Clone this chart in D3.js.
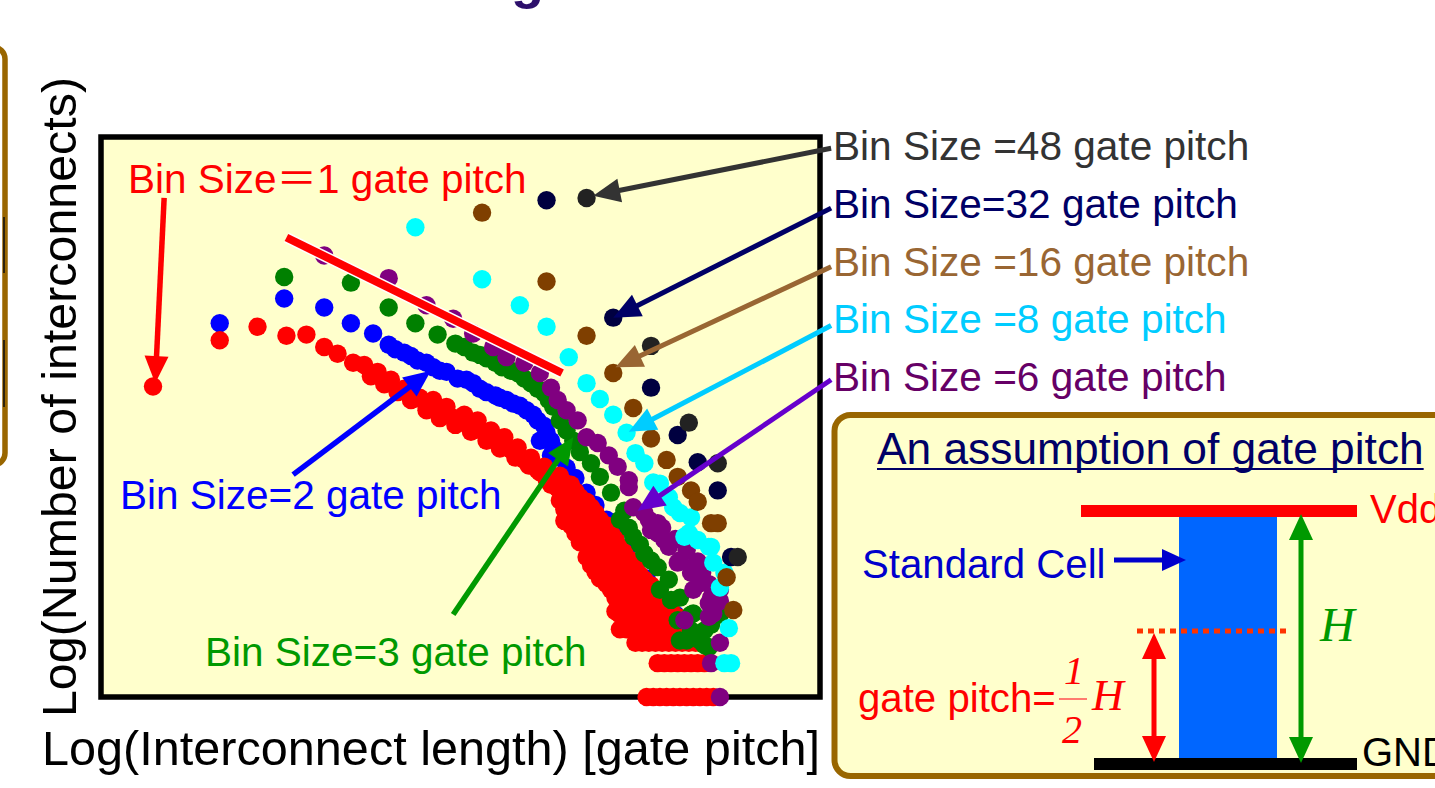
<!DOCTYPE html>
<html><head><meta charset="utf-8">
<script src="https://cdn.jsdelivr.net/npm/d3@7"></script>
<style>html,body{margin:0;padding:0;background:#fff;overflow:hidden}</style>
</head><body>
<svg id="chart" width="1435" height="788"></svg>
<script>
// Each point: [log10(interconnect length in gate pitch), log10(number of interconnects)]
const bin1 = [
  [0.00,2.75],[0.30,3.16],[0.47,3.28],[0.60,3.20],[0.69,3.21],[0.77,3.10],[0.83,3.04],[0.90,2.96],
  [0.95,2.94],[1.01,2.88],[1.07,2.81],[1.13,2.73],[1.20,2.65],[1.26,2.63],[1.32,2.57],[1.40,2.50],
  [1.46,2.45],[1.52,2.36],[1.58,2.30],[1.64,2.21],[1.70,2.12],[1.76,2.04],[1.80,1.95],
  [0.98,2.84],[1.04,2.77],[1.10,2.70],[1.17,2.64],[1.23,2.58],[1.30,2.53],[1.36,2.47],[1.42,2.42],
  [1.49,2.34],[1.55,2.27],[1.61,2.19],[1.67,2.10],[1.73,2.01],[1.77,1.93],[1.82,1.85],
  [1.16,2.63],[1.23,2.54],[1.29,2.47],[1.36,2.41],[1.43,2.35],[1.50,2.27],[1.56,2.20],[1.63,2.12],
  [1.69,2.05],[1.74,1.99],[1.79,1.88],
  [1.83,1.96],[1.83,1.83],[1.83,1.74],
  [1.85,1.90],[1.85,1.78],[1.85,1.66],[1.85,1.56],
  [1.88,1.88],[1.88,1.74],[1.88,1.61],[1.88,1.52],
  [1.90,1.82],[1.90,1.70],[1.90,1.57],[1.90,1.45],
  [1.92,1.77],[1.92,1.64],[1.92,1.50],[1.92,1.37],
  [1.95,1.73],[1.95,1.61],[1.95,1.48],[1.95,1.36],[1.95,1.24],
  [1.97,1.68],[1.97,1.55],[1.97,1.42],[1.97,1.28],[1.97,1.17],
  [1.99,1.63],[1.99,1.50],[1.99,1.37],[1.99,1.24],[1.99,1.11],
  [2.01,1.57],[2.01,1.43],[2.01,1.30],[2.01,1.17],[2.01,1.05],
  [2.04,1.52],[2.04,1.39],[2.04,1.26],[2.04,1.12],[2.04,1.00],
  [2.06,1.45],[2.06,1.32],[2.06,1.19],[2.06,1.05],[2.06,0.95],
  [2.08,1.40],[2.08,1.27],[2.08,1.13],[2.08,1.00],[2.08,0.88],[2.08,0.76],
  [2.10,1.33],[2.10,1.19],[2.10,1.06],[2.10,0.93],[2.10,0.80],[2.10,0.73],
  [2.12,1.28],[2.12,1.15],[2.12,1.01],[2.12,0.88],[2.12,0.76],
  [2.15,1.21],[2.15,1.08],[2.15,0.95],[2.15,0.81],[2.15,0.68],
  [2.17,1.15],[2.17,1.02],[2.17,0.89],[2.17,0.76],
  [2.19,1.08],[2.19,0.95],[2.19,0.81],[2.19,0.70],
  [2.21,1.04],[2.21,0.91],[2.21,0.78],[2.21,0.68],
  [2.24,0.99],[2.24,0.86],[2.24,0.73],
  [2.26,0.93],[2.26,0.80],[2.26,0.68],
  [2.28,0.88],[2.28,0.75],[2.30,0.80],[2.30,0.70],
  [2.33,0.77],[2.33,0.68],[2.35,0.72],[2.37,0.70],
  // four, three, two and single interconnects per length
  [2.10,0.60],[2.13,0.60],[2.16,0.60],[2.19,0.60],[2.22,0.60],[2.25,0.60],[2.28,0.60],[2.31,0.60],[2.34,0.60],[2.37,0.60],[2.40,0.60],
  [2.17,0.48],[2.20,0.48],[2.23,0.48],[2.26,0.48],[2.29,0.48],[2.32,0.48],[2.35,0.48],[2.38,0.48],[2.41,0.48],[2.44,0.48],[2.46,0.48],
  [2.27,0.30],[2.30,0.30],[2.33,0.30],[2.36,0.30],[2.39,0.30],[2.42,0.30],[2.45,0.30],[2.48,0.30],
  [2.22,0.00],[2.25,0.00],[2.28,0.00],[2.31,0.00],[2.34,0.00],[2.37,0.00],[2.40,0.00],[2.43,0.00],[2.46,0.00],[2.49,0.00],[2.52,0.00]
];
const bin2 = [
  [0.30,3.31],[0.59,3.53],[0.77,3.45],[0.89,3.31],[0.99,3.22],[1.06,3.12],[1.13,3.05],[1.19,2.98],
  [1.26,2.92],[1.32,2.88],[1.37,2.82],[1.44,2.78],[1.50,2.70],[1.56,2.65],[1.62,2.60],[1.68,2.54],
  [1.73,2.45],[1.77,2.34],[1.80,2.21],[1.74,2.27],[1.79,2.14],
  [1.09,3.08],[1.16,3.02],[1.23,2.96],[1.29,2.89],[1.41,2.81],[1.47,2.73],[1.54,2.67],[1.59,2.63],
  [1.65,2.58],[1.71,2.50],[1.76,2.40],[1.79,2.27],
  [1.83,2.12],[1.86,2.03],[1.90,1.94],[1.95,1.81],[1.99,1.70],[2.04,1.57],[2.08,1.43],[2.13,1.30],
  [2.17,1.17],[2.22,1.05],[2.26,0.93],[2.31,0.81],[2.35,0.73]
];
const bin3 = [
  [0.59,3.72],[0.89,3.67],[1.06,3.45],[1.18,3.31],[1.28,3.21],[1.36,3.13],[1.44,3.05],[1.50,3.00],
  [1.57,2.92],[1.64,2.87],[1.70,2.78],[1.76,2.69],[1.80,2.57],[1.83,2.45],[1.86,2.36],[1.89,2.27],
  [1.40,3.10],[1.47,3.03],[1.54,2.96],[1.61,2.89],[1.67,2.82],[1.73,2.73],[1.78,2.63],
  [1.92,2.17],[1.97,2.07],[2.01,1.95],[2.06,1.81],[2.12,1.65],[2.14,1.50],[2.10,1.57],[2.16,1.42],
  [2.19,1.35],[2.21,1.27],[2.24,1.21],[2.27,1.15],[2.32,1.04],[2.28,0.95],[2.33,0.86],[2.37,0.88],
  [2.43,0.74],[2.42,0.73],[2.36,0.68],[2.48,0.59],[2.42,0.59],[2.51,0.64],[2.55,0.73],[2.50,0.44],
  [2.48,0.46],[2.46,0.50],[2.40,0.50],[2.37,0.50]
];
const bin6 = [
  [0.77,3.91],[1.06,3.71],[1.23,3.47],[1.35,3.35],[1.44,3.22],[1.53,3.10],[1.59,3.01],[1.67,2.96],
  [1.74,2.87],[1.79,2.74],[1.82,2.63],[1.86,2.54],[1.91,2.45],[1.95,2.30],[2.00,2.25],[2.05,2.14],
  [2.09,2.04],[2.14,1.92],[2.14,1.86],[2.16,1.68],[2.21,1.63],[2.23,1.57],[2.27,1.54],[2.24,1.48],
  [2.27,1.45],[2.29,1.50],[2.30,1.39],[2.32,1.33],[2.35,1.40],[2.36,1.19],[2.37,1.21],[2.40,1.30],
  [2.42,1.10],[2.43,1.15],[2.45,1.20],[2.47,1.10],[2.46,1.01],[2.50,1.00],[2.43,0.95],[2.55,0.95],
  [2.50,0.83],[2.51,0.88],[2.55,0.85],[2.50,0.71],[2.52,0.74],[2.39,0.68],[2.55,0.48],[2.51,0.30],
  [2.55,0.00]
];
const bin8 = [
  [1.18,4.16],[1.48,3.70],[1.65,3.47],[1.77,3.28],[1.87,3.01],[1.95,2.78],[2.01,2.64],[2.07,2.50],
  [2.13,2.34],[2.17,2.16],[2.21,2.07],[2.25,1.90],[2.28,1.89],[2.32,1.77],[2.34,1.68],[2.37,1.63],
  [2.42,1.59],[2.39,1.42],[2.41,1.45],[2.45,1.39],[2.50,1.33],[2.51,1.33],[2.52,1.19],[2.57,1.10],
  [2.55,0.97],[2.59,0.61],[2.57,0.30],[2.60,0.30]
];
const bin16 = [
  [1.48,4.29],[1.77,3.68],[1.95,3.20],[2.07,2.87],[2.16,2.56],[2.24,2.29],[2.31,2.10],[2.36,1.95],
  [2.42,1.83],[2.45,1.73],[2.51,1.54],[2.54,1.54],[2.58,1.06],[2.61,0.77]
];
const bin32 = [[1.77,4.40],[2.07,3.36],[2.24,2.74],[2.36,2.32],[2.45,2.08],[2.54,1.83],[2.60,1.24]];
const bin48 = [[1.95,4.42],[2.24,3.11],[2.41,2.43],[2.54,2.07],[2.63,1.24]];

// drawing order: later series sit on top
const seriesData   = [bin2, bin1, bin3, bin6, bin8, bin16, bin32, bin48];
const seriesColors = ["#0000FF","#FF0000","#008000","#800080","#00FFFF","#7F3F00","#000040","#222222"];

// slope guide for the single-pitch distribution
const slopeGuide = [[0.60,4.07],[1.84,2.87]];

// right-hand callouts
const rightLabels = ["Bin Size =48 gate pitch","Bin Size=32 gate pitch","Bin Size =16 gate pitch","Bin Size =8 gate pitch","Bin Size =6 gate pitch"];
const rightLabelColors = ["#333333","#000066","#996633","#00CCFF","#660066"];
const rightArrowColors = ["#333333","#000066","#996633","#00CCFF","#6600CC"];
const rightArrowTails = [[3.05,4.86],[3.05,4.33],[3.05,3.81],[3.05,3.29],[3.05,2.81]];
const rightArrowTips  = [[1.98,4.44],[2.07,3.36],[2.08,2.92],[2.14,2.35],[2.18,1.65]];

// in-plot callouts
const leftLabels = [["Bin Size","\uFF1D","1 gate pitch"],["Bin Size=2 gate pitch"],["Bin Size=3 gate pitch"]];
const leftColors = ["#FF0000","#0000FF","#009900"];
const leftArrowTails = [[0.05,4.42],[0.63,1.97],[1.35,0.73]];
const leftArrowTips  = [[0.01,2.78],[1.25,2.89],[1.89,2.30]];

const svg = d3.select("#chart");
const SANS = "'Liberation Sans', Arial, sans-serif";
const SERIF = "'Liberation Serif', 'Times New Roman', serif";
const CJK = "'Noto Sans CJK JP', sans-serif";

const x = d3.scaleLinear().domain([-0.234, 3.0]).range([101, 820]);
const y = d3.scaleLinear().domain([0, 4.96]).range([697, 137]);

function arrow(sel, p0, p1, color, w, hl, hw, both) {
  const dx = p1[0]-p0[0], dy = p1[1]-p0[1], len = Math.hypot(dx, dy);
  const ux = dx/len, uy = dy/len;
  const head = (tip, sx, sy) => {
    const bx = tip[0]-sx*hl, by = tip[1]-sy*hl;
    sel.append("path")
      .attr("d", `M${tip[0]},${tip[1]}L${bx-sy*hw/2},${by+sx*hw/2}L${bx+sy*hw/2},${by-sx*hw/2}Z`)
      .attr("fill", color);
  };
  const a = both ? [p0[0]+ux*(hl-2), p0[1]+uy*(hl-2)] : p0;
  const b = [p1[0]-ux*(hl-2), p1[1]-uy*(hl-2)];
  sel.append("line").attr("x1", a[0]).attr("y1", a[1]).attr("x2", b[0]).attr("y2", b[1])
    .attr("stroke", color).attr("stroke-width", w);
  head(p1, ux, uy);
  if (both) head(p0, -ux, -uy);
}

// partial title glyph at the top edge
svg.append("text").attr("x", 511).attr("y", -2).attr("font-family", SANS)
  .attr("font-weight", "bold").attr("font-size", 54).attr("fill", "#2D0F6B").text("g");

// edge of neighbouring panel at the left
svg.append("rect").attr("x", -200).attr("y", 47).attr("width", 205).attr("height", 418)
  .attr("rx", 12).attr("fill", "none").attr("stroke", "#996600").attr("stroke-width", 5.5);
svg.append("line").attr("x1", 4).attr("x2", 4).attr("y1", 217).attr("y2", 273).attr("stroke", "#111").attr("stroke-width", 1.6);
svg.append("line").attr("x1", 4).attr("x2", 4).attr("y1", 340).attr("y2", 407).attr("stroke", "#111").attr("stroke-width", 1.6);

// plot frame
const [x0, x1] = x.range(), [yb, yt] = y.range();
svg.append("rect").attr("x", x0).attr("y", yt).attr("width", x1-x0).attr("height", yb-yt)
  .attr("fill", "#FFFFCC").attr("stroke", "#000").attr("stroke-width", 5.5);

// scatter series
const plot = svg.append("g");
seriesData.forEach((pts, i) => {
  plot.append("g").selectAll("circle").data(pts).join("circle")
    .attr("cx", d => x(d[0])).attr("cy", d => y(d[1])).attr("r", 9.2)
    .attr("fill", seriesColors[i]);
});

// slope guide line with white rim
const guide = d3.line().x(d => x(d[0])).y(d => y(d[1]));
plot.append("path").attr("d", guide(slopeGuide)).attr("stroke", "#fff").attr("stroke-width", 11).attr("fill", "none");
plot.append("path").attr("d", guide(slopeGuide)).attr("stroke", "#FF0000").attr("stroke-width", 8).attr("fill", "none");

// callout arrows
const ann = svg.append("g");
rightArrowTails.forEach((t, i) => {
  arrow(ann, [x(t[0]), y(t[1])], [x(rightArrowTips[i][0]), y(rightArrowTips[i][1])], rightArrowColors[i], 5, 27, 24, false);
});
leftArrowTails.forEach((t, i) => {
  arrow(ann, [x(t[0]), y(t[1])], [x(leftArrowTips[i][0]), y(leftArrowTips[i][1])], leftColors[i], 5.5, 27, 24, false);
});

// callout labels
const rightBase = [160, 218, 276, 333, 391];
rightLabels.forEach((s, i) => {
  svg.append("text").attr("x", 833).attr("y", rightBase[i]).attr("font-family", SANS)
    .attr("font-size", 40.6).attr("fill", rightLabelColors[i]).text(s);
});
const leftPos = [[128, 193], [120, 509], [205, 666]];
leftLabels.forEach((parts, i) => {
  const t = svg.append("text").attr("x", leftPos[i][0]).attr("y", leftPos[i][1]).attr("font-family", SANS)
    .attr("font-size", 40.5).attr("fill", leftColors[i]);
  parts.forEach(p => {
    const sp = t.append("tspan").text(p);
    if (p === "\uFF1D") sp.attr("font-family", CJK);
  });
});

// axis titles
svg.append("text").attr("x", 42).attr("y", 765).attr("font-family", SANS).attr("font-size", 48.6)
  .attr("fill", "#000").text("Log(Interconnect length) [gate pitch]");
svg.append("text").attr("transform", "translate(76,397) rotate(-90)").attr("text-anchor", "middle")
  .attr("font-family", SANS).attr("font-size", 48.4).attr("fill", "#000").text("Log(Number of interconnects)");

// gate pitch explanation panel
const box = svg.append("g");
box.append("rect").attr("x", 834.5).attr("y", 415).attr("width", 700).attr("height", 361).attr("rx", 16)
  .attr("fill", "#FFFFCC").attr("stroke", "#996600").attr("stroke-width", 6);
const head = box.append("text").attr("x", 877).attr("y", 464).attr("font-family", SANS).attr("font-size", 44.3)
  .attr("fill", "#000066").text("An assumption of gate pitch");
const hw = head.node().getComputedTextLength();
box.append("line").attr("x1", 877).attr("x2", 877 + hw).attr("y1", 469).attr("y2", 469)
  .attr("stroke", "#000066").attr("stroke-width", 2);

box.append("rect").attr("x", 1179).attr("y", 517).attr("width", 98).attr("height", 241).attr("fill", "#0066FF");
box.append("rect").attr("x", 1081).attr("y", 505).attr("width", 276).attr("height", 12).attr("fill", "#FF0000");
box.append("rect").attr("x", 1094).attr("y", 758).attr("width", 263).attr("height", 12).attr("fill", "#000");
box.append("text").attr("x", 1370).attr("y", 523).attr("font-family", SANS).attr("font-size", 40).attr("fill", "#FF0000").text("Vdd");
box.append("text").attr("x", 1362).attr("y", 766).attr("font-family", SANS).attr("font-size", 40).attr("fill", "#000").text("GND");

box.append("line").attr("x1", 1137).attr("x2", 1291).attr("y1", 631).attr("y2", 631)
  .attr("stroke", "#FF3300").attr("stroke-width", 5).attr("stroke-dasharray", "6,5");
arrow(box, [1301, 514], [1301, 763], "#009900", 5, 26, 24, true);
arrow(box, [1154, 633], [1154, 762], "#FF0000", 5, 26, 24, true);
box.append("text").attr("x", 1320).attr("y", 641).attr("font-family", SERIF).attr("font-style", "italic")
  .attr("font-size", 48).attr("fill", "#009900").text("H");

box.append("text").attr("x", 862).attr("y", 578).attr("font-family", SANS).attr("font-size", 40.2)
  .attr("fill", "#0000CC").text("Standard Cell");
arrow(box, [1114, 560], [1186, 560], "#0000CC", 5, 24, 22, false);

box.append("text").attr("x", 858).attr("y", 712).attr("font-family", SANS).attr("font-size", 40.2)
  .attr("fill", "#FF0000").text("gate pitch=");
box.append("text").attr("x", 1064).attr("y", 684).attr("font-family", SERIF).attr("font-style", "italic")
  .attr("font-size", 40).attr("fill", "#FF0000").text("1");
box.append("line").attr("x1", 1059).attr("x2", 1087).attr("y1", 699).attr("y2", 699)
  .attr("stroke", "#FF5050").attr("stroke-width", 1.5);
box.append("text").attr("x", 1062).attr("y", 743).attr("font-family", SERIF).attr("font-style", "italic")
  .attr("font-size", 40).attr("fill", "#FF0000").text("2");
box.append("text").attr("x", 1092).attr("y", 710).attr("font-family", SERIF).attr("font-style", "italic")
  .attr("font-size", 44).attr("fill", "#FF0000").text("H");
</script>
</body></html>
